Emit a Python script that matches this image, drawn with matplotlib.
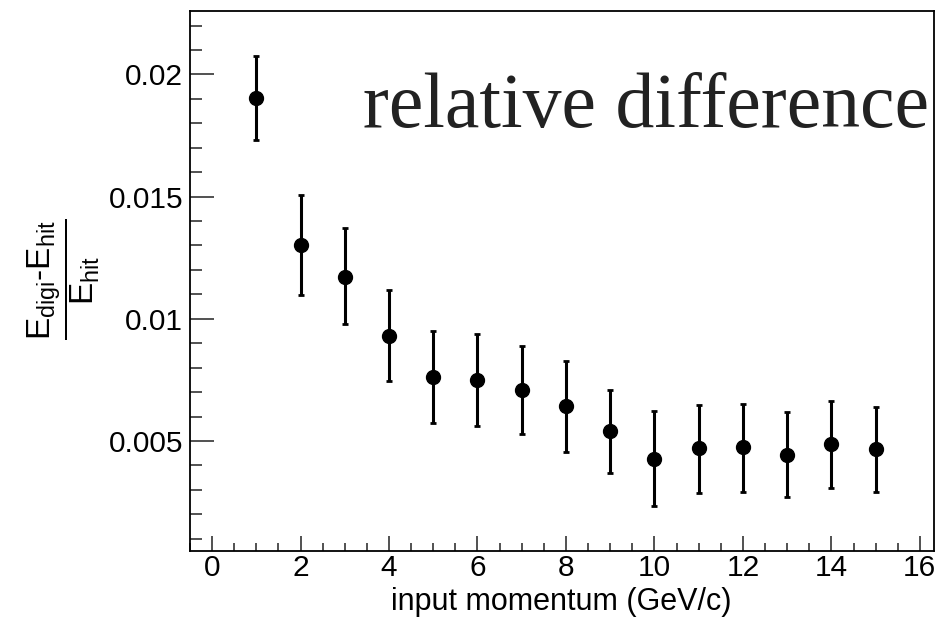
import numpy as np
import matplotlib
matplotlib.use("Agg")
import matplotlib.pyplot as plt
from matplotlib.ticker import MultipleLocator

# input momentum (GeV/c) and relative difference (E_digi - E_hit) / E_hit
momentum = [1, 2, 3, 4, 5, 6, 7, 8, 9, 10, 11, 12, 13, 14, 15]
rel_diff = [0.01902, 0.01300, 0.01173, 0.00930, 0.00760, 0.00749, 0.00707,
            0.00642, 0.00540, 0.00426, 0.00470, 0.00475, 0.00443, 0.00488, 0.00466]
err_lo = [0.00171, 0.00202, 0.00196, 0.00184, 0.00188, 0.00187, 0.00180,
          0.00185, 0.00170, 0.00192, 0.00182, 0.00185, 0.00173, 0.00179, 0.00176]
err_hi = [0.00173, 0.00207, 0.00198, 0.00187, 0.00190, 0.00188, 0.00183,
          0.00187, 0.00167, 0.00196, 0.00179, 0.00178, 0.00175, 0.00177, 0.00173]

plt.rcParams['font.family'] = ['Liberation Sans', 'DejaVu Sans']
plt.rcParams['mathtext.fontset'] = 'custom'
plt.rcParams['mathtext.rm'] = 'Liberation Sans'
plt.rcParams['mathtext.it'] = 'Liberation Sans'

fig = plt.figure(figsize=(9.39, 6.19), dpi=100)
ax = fig.add_axes([0.2023, 0.1103, 0.7924, 0.8714])

ax.errorbar(momentum, rel_diff, yerr=[err_lo, err_hi], fmt='o', color='black',
            markersize=10, elinewidth=2.2, capsize=2.2, capthick=2)

ax.set_xlim(-0.5, 16.32)
ax.set_ylim(0.000512, 0.02258)

ax.xaxis.set_major_locator(MultipleLocator(2))
ax.xaxis.set_minor_locator(MultipleLocator(0.5))
ax.yaxis.set_major_locator(MultipleLocator(0.005))
ax.yaxis.set_minor_locator(MultipleLocator(0.001))
ax.yaxis.set_major_formatter(plt.FuncFormatter(lambda v, p: '%g' % round(v, 4)))

ax.tick_params(axis='both', which='both', direction='in', top=False, right=False,
               labelsize=21.5, width=1.2, color='#333333')
ax.tick_params(axis='x', which='major', length=11, pad=2)
ax.tick_params(axis='x', which='minor', length=5.5)
ax.tick_params(axis='y', which='major', length=17, pad=5)
ax.tick_params(axis='y', which='minor', length=8.5)
for sp in ax.spines.values():
    sp.set_linewidth(1.3)

ax.set_xlabel('input momentum (GeV/c)', fontsize=22)
ax.xaxis.set_label_coords(0.4987, -0.068)
ax.set_ylabel(r'$\dfrac{\mathrm{E_{digi}\text{-}E_{hit}}}{\mathrm{E_{hit}}}$', fontsize=24)
ax.yaxis.set_label_coords(-0.169, 0.503)
ax.yaxis.label.set_va('center')

ax.text(0.233, 0.785, 'relative difference', transform=ax.transAxes,
        fontsize=56, family='Liberation Serif', color='#222222', va='baseline')

fig.savefig('out.png', dpi=100)
